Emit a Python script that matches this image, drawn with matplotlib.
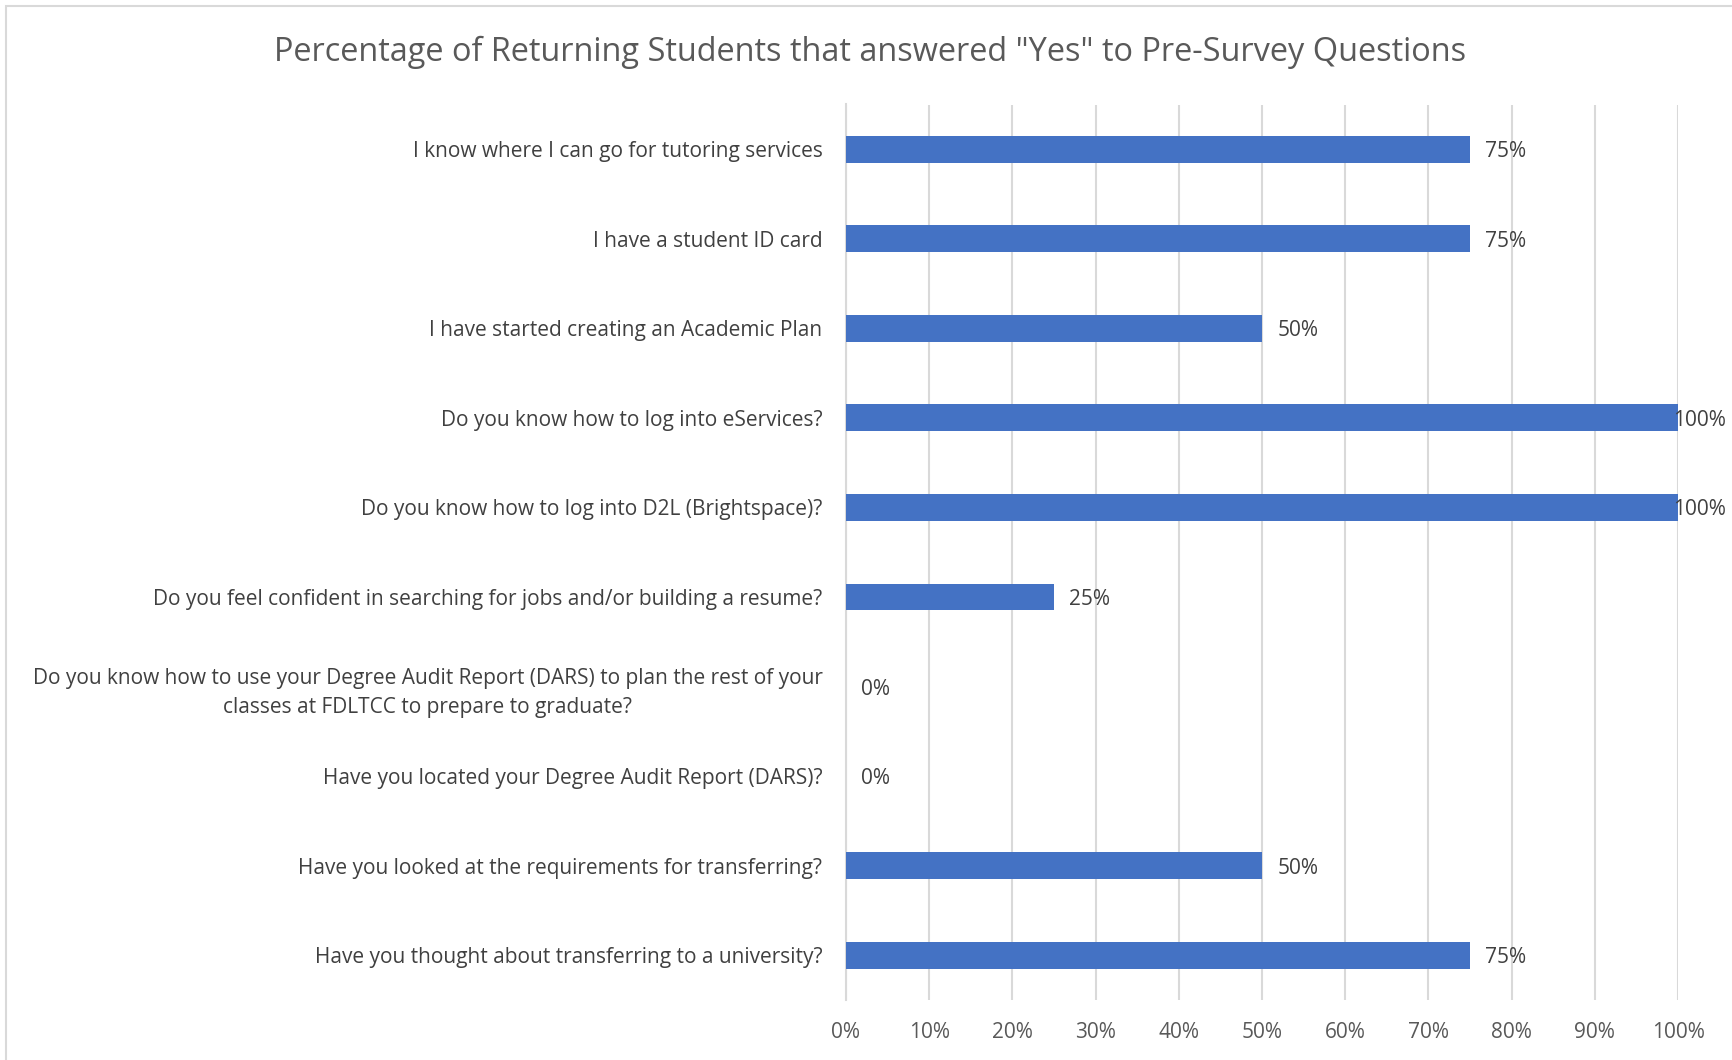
import matplotlib
matplotlib.use("Agg")
import matplotlib.pyplot as plt
from matplotlib.patches import Rectangle
from matplotlib.ticker import FuncFormatter, MultipleLocator
import matplotlib.transforms as mtransforms

plt.rcParams['font.family'] = ['Open Sans', 'DejaVu Sans']

title = 'Percentage of Returning Students that answered "Yes" to Pre-Survey Questions'
categories = [
    "I know where I can go for tutoring services",
    "I have a student ID card",
    "I have started creating an Academic Plan",
    "Do you know how to log into eServices?",
    "Do you know how to log into D2L (Brightspace)?",
    "Do you feel confident in searching for jobs and/or building a resume?",
    "Do you know how to use your Degree Audit Report (DARS) to plan the rest of your\nclasses at FDLTCC to prepare to graduate?",
    "Have you located your Degree Audit Report (DARS)?",
    "Have you looked at the requirements for transferring?",
    "Have you thought about transferring to a university?",
]
values = [0.75, 0.75, 0.50, 1.00, 1.00, 0.25, 0.0, 0.0, 0.50, 0.75]

W, H = 1732, 1060
FS = 15
fig = plt.figure(figsize=(W / 100, H / 100), dpi=100)
fig.patch.set_facecolor("white")

# chart border (partially cropped)
fig.add_artist(Rectangle((6 / W, -0.05), 1.2, 1 - 6 / H + 0.05, transform=fig.transFigure,
                         fill=False, edgecolor="#d9d9d9", linewidth=1.5))

ax = fig.add_axes([846 / W, 1 - 1000 / H, (1678 - 846) / W, (1000 - 104.5) / H])
y = list(range(len(categories)))
ax.barh(y, values, height=0.30, color="#4472c4", zorder=3)
ax.set_ylim(len(categories) - 0.5, -0.5)
ax.set_xlim(0, 1.0)
ax.xaxis.set_major_locator(MultipleLocator(0.1))
ax.xaxis.set_major_formatter(FuncFormatter(lambda v, p: f"{v*100:.0f}%"))
ax.set_yticks(y)
ax.set_yticklabels(categories, fontsize=FS, color="#404040", multialignment="center",
                   linespacing=1.5)
ax.tick_params(axis="y", length=0, pad=17)
ax.tick_params(axis="x", length=0, pad=16, labelsize=FS, labelcolor="#595959")
ax.grid(axis="x", color="#d9d9d9", linewidth=1.5, zorder=0)
for s in ["top", "right", "bottom"]:
    ax.spines[s].set_visible(False)
ax.spines["left"].set_color("#d9d9d9")
ax.spines["left"].set_linewidth(1.5)

# data labels
for yi, v in zip(y, values):
    txt = f"{v*100:.0f}%"
    if v >= 1.0:
        tr = mtransforms.blended_transform_factory(fig.transFigure, ax.transData)
        ax.text(1 - 6 / W, yi, txt, transform=tr, ha="right", va="center_baseline",
                fontsize=FS, color="#404040", zorder=4)
    else:
        ax.annotate(txt, (v, yi), xytext=(11, 0), textcoords="offset points",
                    ha="left", va="center_baseline", fontsize=FS, color="#404040", zorder=4)

fig.text(0.5 * (248 + 1328) * 1.1046 / W, 1 - 52 / H, title, ha="center", va="center",
         fontsize=23.4, color="#595959")

fig.savefig("out.png", dpi=100)
